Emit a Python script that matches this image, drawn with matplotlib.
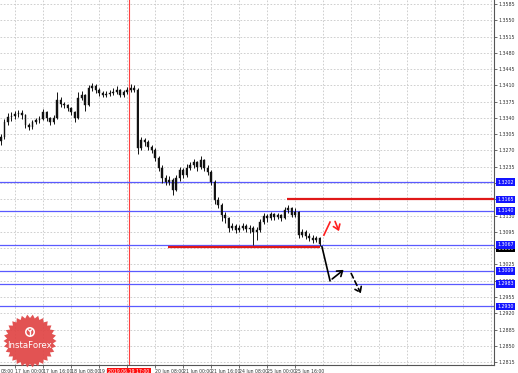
import numpy as np
import matplotlib
matplotlib.use("Agg")
import matplotlib.pyplot as plt
from matplotlib.patches import Polygon, Rectangle, Circle
import matplotlib.transforms as mtrans

# ---------------- data ----------------
first_open = 1.3290
bar_start_hour = -8          # hours relative to 17 Jun 00:00 (trading hours)
bar_step = 2                 # 2-hour bars
closes = [1.3299, 1.3331, 1.3342, 1.3344, 1.3348, 1.3351, 1.3346, 1.3325, 1.3320, 1.3331,
          1.3335, 1.3338, 1.3352, 1.3340, 1.3331, 1.3340, 1.3379, 1.3370, 1.3368, 1.3361,
          1.3352, 1.3340, 1.3383, 1.3389, 1.3368, 1.3404, 1.3409, 1.3400, 1.3394, 1.3389,
          1.3392, 1.3394, 1.3396, 1.3400, 1.3389, 1.3396, 1.3400, 1.3404, 1.3400, 1.3275,
          1.3292, 1.3288, 1.3277, 1.3271, 1.3254, 1.3232, 1.3211, 1.3202, 1.3207, 1.3185,
          1.3211, 1.3228, 1.3217, 1.3232, 1.3239, 1.3245, 1.3234, 1.3250, 1.3232, 1.3224,
          1.3202, 1.3163, 1.3153, 1.3131, 1.3124, 1.3103, 1.3107, 1.3099, 1.3103, 1.3107,
          1.3101, 1.3103, 1.3095, 1.3099, 1.3116, 1.3129, 1.3124, 1.3133, 1.3127, 1.3131,
          1.3124, 1.3142, 1.3146, 1.3131, 1.3138, 1.3088, 1.3095, 1.3086, 1.3082, 1.3077,
          1.3082, 1.3069]
highs = [1.3305, 1.3338, 1.3350, 1.3352, 1.3355, 1.3358, 1.3356, 1.3349, 1.3330, 1.3336,
         1.3340, 1.3345, 1.3360, 1.3355, 1.3343, 1.3346, 1.3396, 1.3384, 1.3375, 1.3370,
         1.3364, 1.3355, 1.3395, 1.3398, 1.3392, 1.3410, 1.3415, 1.3412, 1.3404, 1.3398,
         1.3397, 1.3400, 1.3405, 1.3408, 1.3403, 1.3401, 1.3406, 1.3412, 1.3410, 1.3404,
         1.3298, 1.3296, 1.3292, 1.3282, 1.3275, 1.3258, 1.3238, 1.3218, 1.3215, 1.3210,
         1.3218, 1.3235, 1.3232, 1.3240, 1.3246, 1.3252, 1.3248, 1.3258, 1.3252, 1.3238,
         1.3228, 1.3206, 1.3170, 1.3158, 1.3138, 1.3128, 1.3114, 1.3112, 1.3110, 1.3115,
         1.3112, 1.3109, 1.3108, 1.3106, 1.3122, 1.3135, 1.3134, 1.3138, 1.3136, 1.3136,
         1.3134, 1.3148, 1.3152, 1.3149, 1.3146, 1.3140, 1.3102, 1.3098, 1.3092, 1.3088,
         1.3086, 1.3085]
lows = [1.3282, 1.3295, 1.3325, 1.3334, 1.3338, 1.3342, 1.3338, 1.3318, 1.3314, 1.3316,
        1.3326, 1.3330, 1.3335, 1.3334, 1.3324, 1.3328, 1.3338, 1.3364, 1.3361, 1.3355,
        1.3346, 1.3332, 1.3338, 1.3378, 1.3355, 1.3365, 1.3398, 1.3394, 1.3388, 1.3384,
        1.3385, 1.3387, 1.3389, 1.3391, 1.3384, 1.3385, 1.3392, 1.3396, 1.3395, 1.3262,
        1.3270, 1.3280, 1.3270, 1.3264, 1.3248, 1.3225, 1.3200, 1.3195, 1.3196, 1.3175,
        1.3182, 1.3205, 1.3210, 1.3214, 1.3228, 1.3232, 1.3226, 1.3230, 1.3226, 1.3218,
        1.3196, 1.3155, 1.3146, 1.3118, 1.3115, 1.3094, 1.3098, 1.3092, 1.3094, 1.3098,
        1.3095, 1.3093, 1.3066, 1.3078, 1.3095, 1.3112, 1.3117, 1.3120, 1.3121, 1.3123,
        1.3118, 1.3122, 1.3136, 1.3126, 1.3128, 1.3082, 1.3084, 1.3080, 1.3076, 1.3072,
        1.3074, 1.3064]

blue_levels = [1.3202, 1.3140, 1.3067, 1.3011, 1.2983, 1.2935]
blue_labels = ["1.3202", "1.3140", "1.3067", "1.3009", "1.2983", "1.2930"]
red_level_upper = 1.3165
red_level_upper_start = 155.4
red_level_lower = 1.30627
red_level_lower_span = (87.4, 174.3)
current_price = 1.3059

x_tick_hours = [0, 16, 32, 48, 64, 80, 96, 112, 128, 144, 160]
x_tick_labels = ["17 Jun 00:00", "17 Jun 16:00", "18 Jun 08:00", "19 Jun 00:00",
                 "", "20 Jun 08:00", "21 Jun 00:00", "21 Jun 16:00",
                 "24 Jun 08:00", "25 Jun 00:00", "25 Jun 16:00"]
marker_hour = 65
marker_label = "2019.06.19 17:00"

y_tick_values = [1.2815, 1.2850, 1.2885, 1.2920, 1.2955, 1.2990, 1.3025, 1.3060, 1.3095,
                 1.3130, 1.3165, 1.3200, 1.3235, 1.3270, 1.3305, 1.3340, 1.3375, 1.3410,
                 1.3445, 1.3480, 1.3515, 1.3550, 1.3585]
y_ticks_hidden = [1.3060, 1.3165, 1.3200]   # covered by level boxes

# forecast arrows (hour, price)
red_slash = [(176.5, 1.3088), (180.0, 1.3116)]
red_arrow = [(182.3, 1.3123), (185.7, 1.3091)]
black_path = [(175.4, 1.3063), (180.0, 1.2990), (189.0, 1.3017)]
black_dashed = [(191.4, 1.3011), (198.3, 1.2957)]

# ---------------- figure ----------------
W, H = 518, 373
fig = plt.figure(figsize=(W / 100, H / 100), dpi=100)
fig.patch.set_facecolor("white")
ax = fig.add_axes([0, 8 / H, 494 / W, 1 - 8 / H])
ax.set_facecolor("white")

x_left, x_right = -8.57, 273.7
y_bottom, y_top = 1.28087, 1.35936
ax.set_xlim(x_left, x_right)
ax.set_ylim(y_bottom, y_top)

# grid
for h in range(0, 280, 16):
    ax.axvline(h, color="#c8c8c8", lw=0.6, ls=(0, (2, 2)), zorder=0)
for v in y_tick_values:
    ax.axhline(v, color="#c8c8c8", lw=0.6, ls=(0, (2, 2)), zorder=0)

# candles
opens = [first_open] + closes[:-1]
xs = [bar_start_hour + bar_step * i for i in range(len(closes))]
ax.vlines(xs, lows, highs, color="#111111", lw=0.7, zorder=3)
for x, o, c in zip(xs, opens, closes):
    lo, hi = min(o, c), max(o, c)
    ax.add_patch(Rectangle((x - 0.55, lo), 1.1, max(hi - lo, 0.00008),
                           facecolor="#111111", edgecolor="#111111", lw=0.3, zorder=3))

# marker vertical line
ax.axvline(marker_hour, color="#ff4040", lw=0.8, zorder=2)

# level lines
for lv in blue_levels:
    ax.axhline(lv, color="#5a5aff", lw=0.9, zorder=2)
ax.plot([red_level_upper_start, x_right], [red_level_upper] * 2, color="#e01818", lw=1.6,
        zorder=4, solid_capstyle="butt")
ax.plot(list(red_level_lower_span), [red_level_lower] * 2, color="#e01818", lw=1.6,
        zorder=4, solid_capstyle="butt")

# forecast arrows
ax.plot([p[0] for p in red_slash], [p[1] for p in red_slash], color="#ff2020", lw=1.2, zorder=5)
ax.annotate("", xy=red_arrow[1], xytext=red_arrow[0],
            arrowprops=dict(arrowstyle="->,head_length=0.35,head_width=0.25", color="#ff2020", lw=1.2),
            zorder=5)
ax.plot([p[0] for p in black_path[:2]], [p[1] for p in black_path[:2]], color="black", lw=1.2, zorder=5)
ax.annotate("", xy=black_path[2], xytext=black_path[1],
            arrowprops=dict(arrowstyle="->,head_length=0.35,head_width=0.25", color="black", lw=1.2),
            zorder=5)
ax.annotate("", xy=black_dashed[1], xytext=black_dashed[0],
            arrowprops=dict(arrowstyle="->,head_length=0.35,head_width=0.25", color="black", lw=1.2,
                            linestyle=(0, (3, 2))),
            zorder=5)

# spines
for s in ["left", "top"]:
    ax.spines[s].set_visible(False)
for s in ["right", "bottom"]:
    ax.spines[s].set_color("#555555")
    ax.spines[s].set_linewidth(0.8)

# y ticks on right
ax.yaxis.tick_right()
ax.set_yticks(y_tick_values)
ax.set_yticklabels(["" if v in y_ticks_hidden else f"{v:.4f}" for v in y_tick_values])
ax.tick_params(axis="y", labelsize=3.4, colors="#333333", length=2, width=0.5, pad=1.5)

# x ticks
ax.set_xticks(x_tick_hours)
ax.set_xticklabels(x_tick_labels)
for lab in ax.get_xticklabels():
    lab.set_ha("left")
ax.tick_params(axis="x", labelsize=3.3, colors="#333333", length=2, width=0.5, pad=1)
ax.annotate("08:00", xy=(0.002, 0), xycoords="axes fraction", xytext=(0, -3),
            textcoords="offset points", fontsize=3.3, color="#333333", ha="left", va="top")

# marker label on x-axis
ax.annotate(marker_label, xy=(marker_hour, 0),
            xycoords=mtrans.blended_transform_factory(ax.transData, ax.transAxes),
            xytext=(0, -3), textcoords="offset points",
            fontsize=3.3, color="white", ha="center", va="top", zorder=20, annotation_clip=False,
            bbox=dict(boxstyle="square,pad=0.25", fc="#ff1010", ec="none"))

# level labels at right
ytr = mtrans.blended_transform_factory(ax.transAxes, ax.transData)
ax.text(1.006, current_price, "1.3059", transform=ytr, fontsize=3.4, color="white",
        ha="left", va="center", zorder=19, clip_on=False,
        bbox=dict(boxstyle="square,pad=0.25", fc="black", ec="none"))
for lv, lab in list(zip(blue_levels, blue_labels)) + [(red_level_upper, "1.3165")]:
    ax.text(1.006, lv, lab, transform=ytr, fontsize=3.4, color="white", ha="left", va="center",
            zorder=20, clip_on=False,
            bbox=dict(boxstyle="square,pad=0.25", fc="#1414ff", ec="none"))

# ---------------- logo overlay (pixel coords) ----------------
lax = fig.add_axes([0, 0, 1, 1], zorder=10)
lax.set_xlim(0, W)
lax.set_ylim(H, 0)
lax.axis("off")
lax.patch.set_alpha(0)
cx, cy = 30, 341
n = 30
ang = np.linspace(0, 2 * np.pi, 2 * n, endpoint=False)
rad = np.where(np.arange(2 * n) % 2 == 0, 26.5, 23.0)
star = np.column_stack([cx + rad * np.cos(ang), cy + rad * np.sin(ang)])
lax.add_patch(Polygon(star, closed=True, fc="#e04646", ec="none", alpha=0.93))
lax.add_patch(Circle((cx, cy - 9), 4.2, fc="none", ec="white", lw=1.1))
lax.plot([cx, cx], [cy - 11, cy - 6], color="white", lw=1.0)
lax.plot([cx - 2, cx, cx + 2], [cy - 11.5, cy - 9.5, cy - 11.5], color="white", lw=0.8)
lax.text(cx, cy + 5, "InstaForex", color="white", fontsize=6.2, ha="center", va="center")

fig.savefig("out.png", dpi=100)
